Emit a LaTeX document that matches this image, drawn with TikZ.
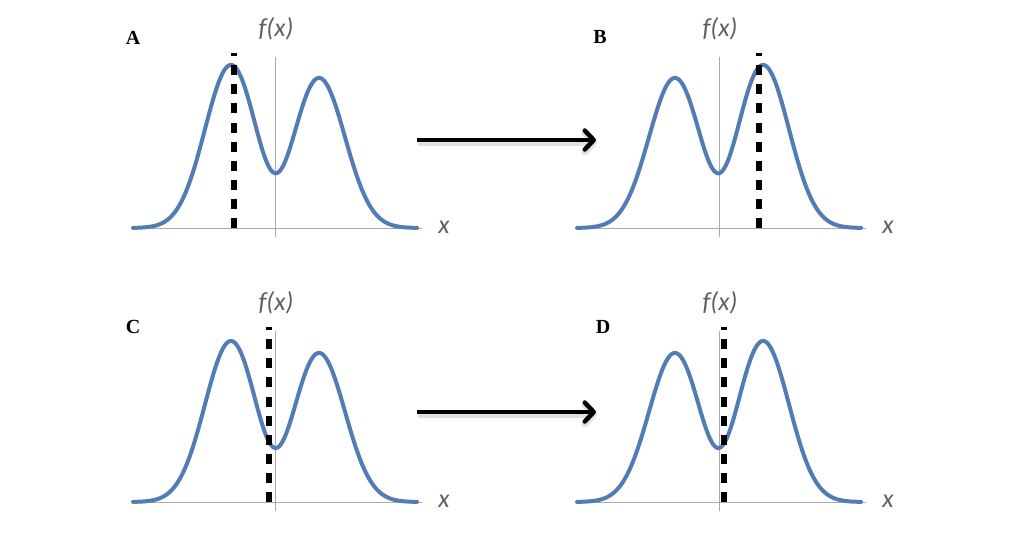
\documentclass[tikz,border=0pt]{standalone}
\usepackage{fontspec}
\setmainfont{Liberation Serif}
\newfontfamily\calib{Carlito}
\usetikzlibrary{arrows.meta}
\definecolor{curveblue}{RGB}{82,124,182}
\definecolor{axisgrey}{RGB}{170,170,170}
\definecolor{labelgrey}{RGB}{95,95,95}
\newcommand\drawpanel[6]{%
  \coordinate (#1-o) at (#2,#3);
  \draw[axisline] (#2-142,#3) -- (#2+147,#3);
  \draw[axisline] (#2,#3-171) -- (#2,#3+9);
  \draw[curve] plot[domain=-142:142,samples=240]
    ({#2+\x},{#3-(#4*exp(-0.5*((\x+44)/26)^2)+#5*exp(-0.5*((\x-44)/26)^2)-20*exp(-0.5*(\x/16)^2))});
  \draw[marker] (#6,#3) -- (#6,#3-175);
  \node[fx] (#1-f) at (#2+1,#3-199) {f(x)};
  \node[fx] (#1-x) at (#2+169,#3-1) {x};
}
\begin{document}
\begin{tikzpicture}[x=1pt,y=-1pt,
  curve/.style={curveblue, line width=4pt, line join=round, line cap=round},
  axisline/.style={axisgrey, line width=1pt},
  marker/.style={black, line width=5.5pt, dash pattern=on 10pt off 9.1pt},
  fx/.style={font=\calib\itshape\fontsize{26}{26}\selectfont, text=labelgrey, inner sep=0pt},
  panel/.style={font=\bfseries\fontsize{20}{20}\selectfont, inner sep=0pt},
  move/.style={line width=4.5pt, -{Straight Barb[length=9pt,width=19pt,line cap=round,line join=round]}},
  moveshadow/.style={move, black, opacity=0.12, line width=6.5pt}
]
\useasboundingbox (0,0) rectangle (1020,536);
\drawpanel{A}{275}{228}{163}{150}{234}
\drawpanel{B}{719}{228}{150}{163}{759}
\drawpanel{C}{275}{502}{161}{149}{269}
\drawpanel{D}{719}{502}{149}{161}{724}
\node[panel] (lA) at (133,38) {A};
\node[panel] (lB) at (600,37) {B};
\node[panel] (lC) at (133,327) {C};
\node[panel] (lD) at (603,327) {D};
\coordinate (r1s) at (417,140);
\coordinate (r1e) at (596,140);
\coordinate (r2s) at (417,412);
\coordinate (r2e) at (596,412);
\draw[moveshadow] ([shift={(1,2.5)}]r1s) -- ([shift={(1,2.5)}]r1e);
\draw[moveshadow] ([shift={(1,2.5)}]r2s) -- ([shift={(1,2.5)}]r2e);
\draw[move] (r1s) -- (r1e);
\draw[move] (r2s) -- (r2e);
\end{tikzpicture}
\end{document}
